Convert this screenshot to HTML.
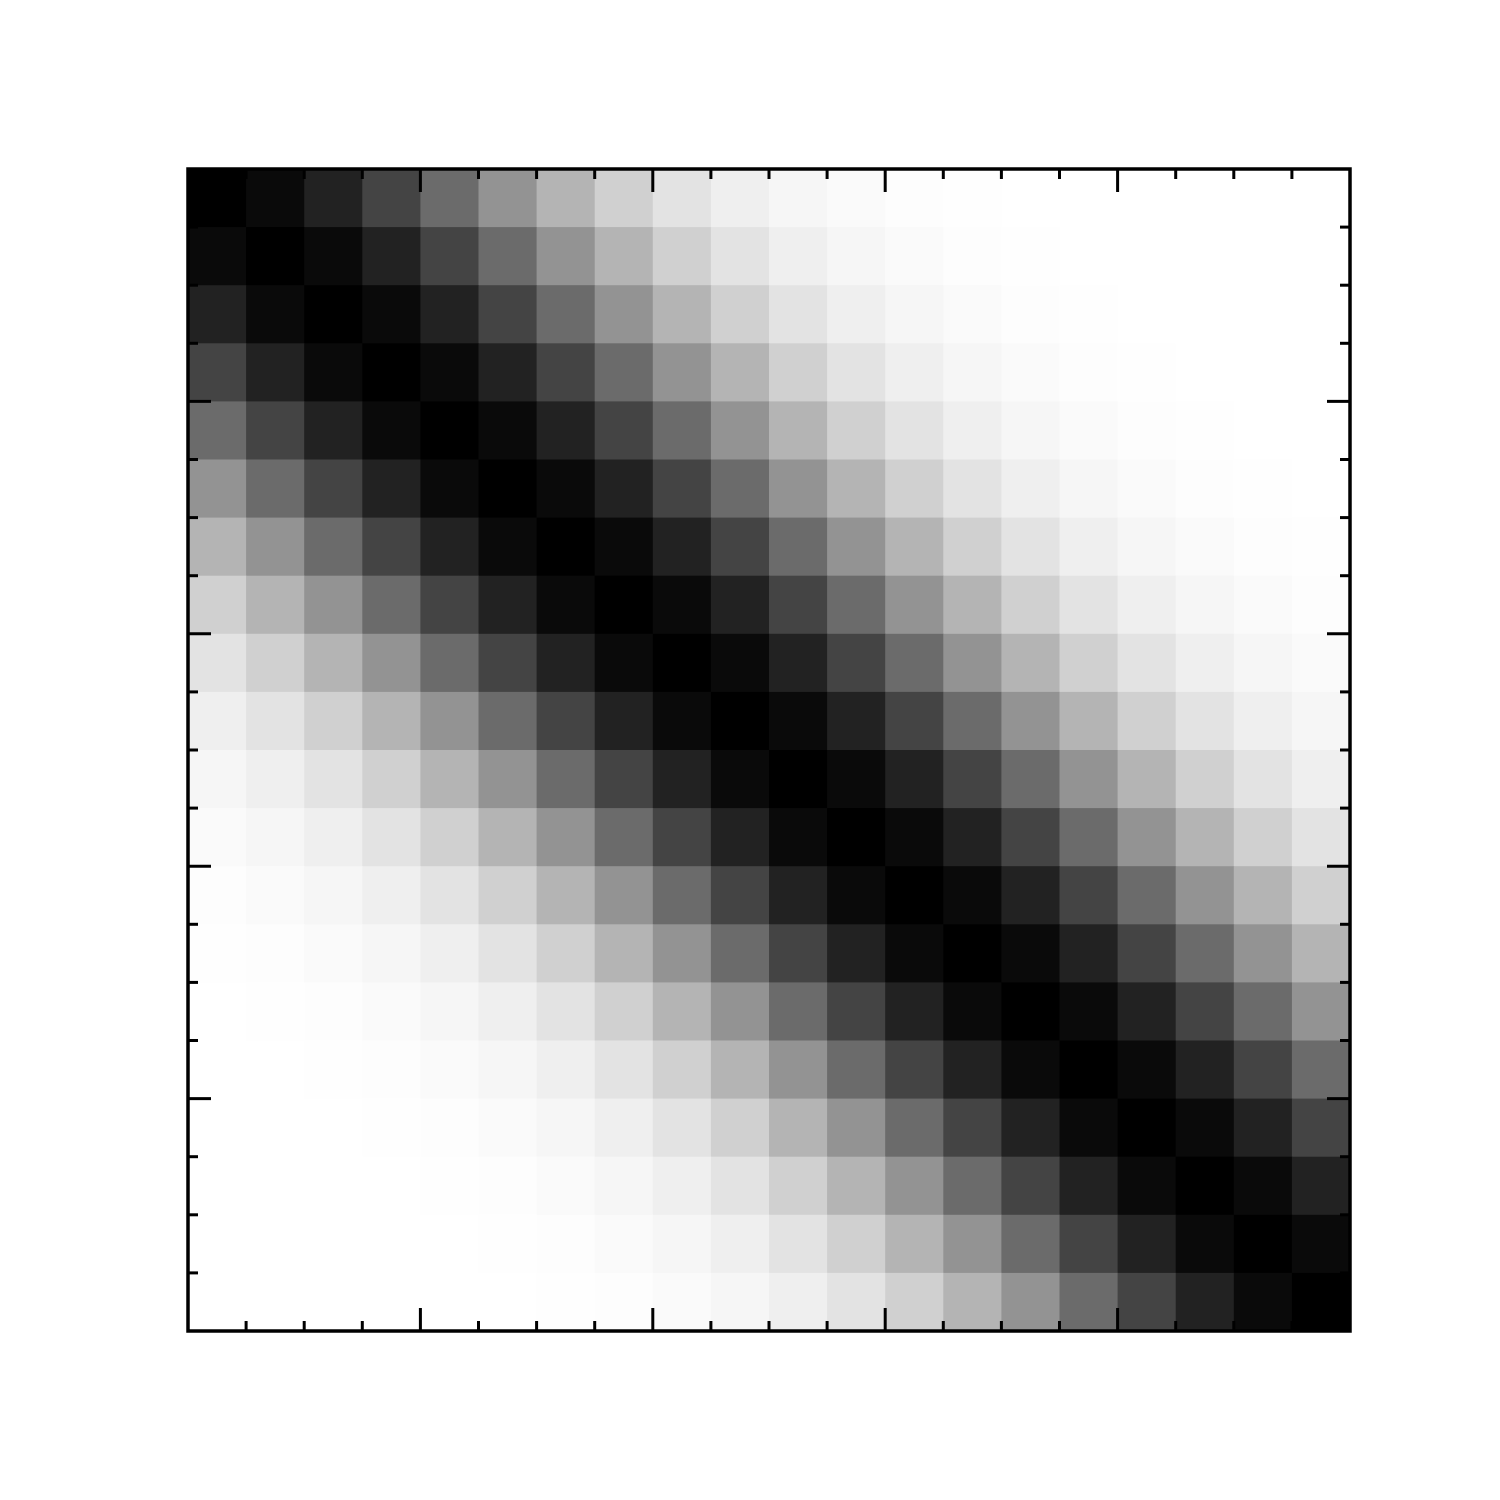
<!DOCTYPE html>
<html><head><meta charset="utf-8"><style>html,body{margin:0;padding:0;background:#fff;width:1500px;height:1500px;overflow:hidden}</style></head>
<body>
<svg id="chart" width="1500" height="1500" xmlns="http://www.w3.org/2000/svg">
<rect width="1500" height="1500" fill="#fff"/>
<g id="cells"></g>
<g id="ticks"></g>
<rect x="188" y="169" width="1162" height="1162" fill="none" stroke="#000" stroke-width="3.5"/>
</svg>
<script>
// gray level (0-255) by offset from diagonal |row-col|
const offsetGray = [0,10,34,68,107,147,180,208,227,239,246,250,253,254,255,255,255,255,255,255];
const nRows = 20;
const nCols = 20;
const majorTicks = [4,8,12,16];

const X0=188, Y0=169, W=1162, H=1162;
const xs = v => X0 + v*W/nCols;
const ys = v => Y0 + v*H/nRows;
const NS='http://www.w3.org/2000/svg';
const cells=document.getElementById('cells');
for(let r=0;r<nRows;r++){for(let c=0;c<nCols;c++){
  const g=offsetGray[Math.abs(r-c)];
  const el=document.createElementNS(NS,'rect');
  
  
  el.setAttribute('x',xs(c));el.setAttribute('y',ys(r));
  el.setAttribute('width',xs(c+1)-xs(c)+0.5);el.setAttribute('height',ys(r+1)-ys(r)+0.5);
  el.setAttribute('fill',`rgb(${g},${g},${g})`);
  cells.appendChild(el);
}}
const ticks=document.getElementById('ticks');
function line(x1,y1,x2,y2){
  const l=document.createElementNS(NS,'line');
  
  
  l.setAttribute('x1',x1);l.setAttribute('y1',y1);l.setAttribute('x2',x2);l.setAttribute('y2',y2);
  l.setAttribute('stroke','#000');l.setAttribute('stroke-width','3');
  ticks.appendChild(l);
}
for(let i=1;i<nCols;i++){
  const len=majorTicks.includes(i)?23:10;
  const x=xs(i), y=ys(i);
  line(x,Y0+H,x,Y0+H-len); line(x,Y0,x,Y0+len);
  line(X0,y,X0+len,y); line(X0+W,y,X0+W-len,y);
}
</script>
</body></html>
